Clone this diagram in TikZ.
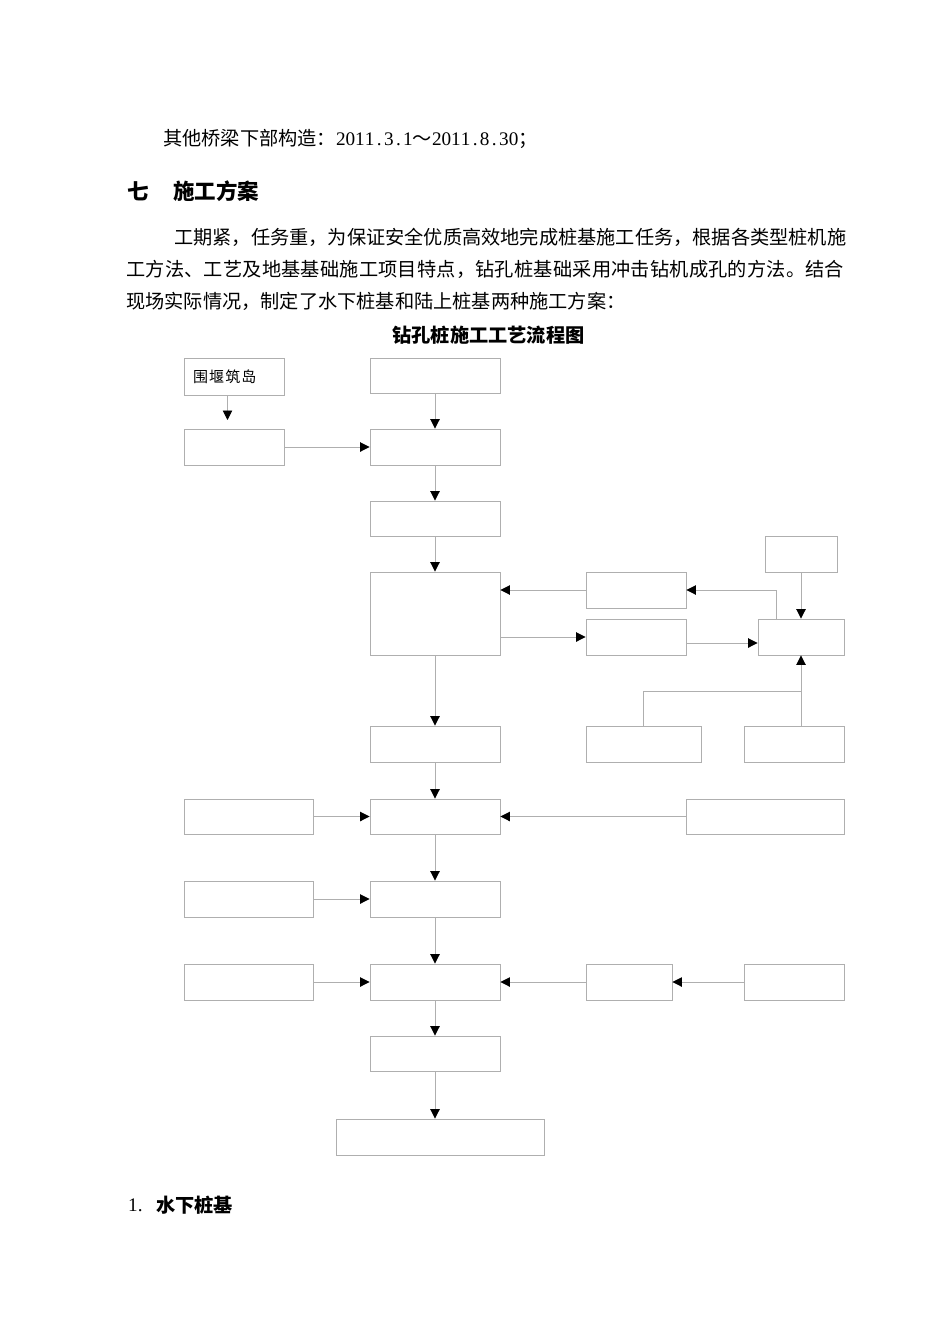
\documentclass[tikz,border=0pt]{standalone}
\usepackage{fontspec}
\setmainfont{Noto Sans CJK SC}
\newfontfamily\serifl{Liberation Serif}
\usetikzlibrary{arrows.meta}
\definecolor{ln}{RGB}{175,175,175}
\newcommand\hw[1]{{\serifl\makebox[9.6pt][c]{#1}}}
\ExplSyntaxOn
\NewDocumentCommand\spreadline{mm}
  {
    \hbox_to_wd:nn {#1}
      {
        \bool_set_true:N \l_tmpa_bool
        \tl_map_inline:nn {#2}
          {
            \bool_if:NTF \l_tmpa_bool
              { \bool_set_false:N \l_tmpa_bool }
              { \hfil }
            ##1
          }
      }
  }
\ExplSyntaxOff
\begin{document}
\begin{tikzpicture}[x=1pt,y=-1pt,
  box/.style={draw=ln,line width=0.9pt,inner sep=0pt,fill=white},
  con/.style={draw=ln,line width=0.9pt},
  arr/.style={con,-{Triangle[color=black,length=9.5pt,width=9.5pt]}},
  txt/.style={inner sep=0pt,anchor=west,font=\fontsize{19.2}{22}\selectfont},
  hd/.style={inner sep=0pt,anchor=west,font=\fontsize{19.2}{22}\selectfont\bfseries}]
\path[use as bounding box,fill=white] (0,0) rectangle (950,1344);

% ---------- text ----------
\node[txt] (l0) at (163,138.5) {其他桥梁下部构造：\hw2\hw0\hw1\hw1\hw.\hw3\hw.\hw1～\hw2\hw0\hw1\hw1\hw.\hw8\hw.\hw3\hw0；};
\node[hd,font=\fontsize{21.5}{24}\selectfont\bfseries] (h7) at (127,191) {七};
\node[hd,font=\fontsize{21.5}{24}\selectfont\bfseries] (h7b) at (173,191) {施工方案};
\node[txt] (p1) at (174,237.5) {\spreadline{670pt}{工期紧，任务重，为保证安全优质高效地完成桩基施工任务，根据各类型桩机施}};
\node[txt] (p2) at (126,269.5) {\spreadline{718pt}{工方法、工艺及地基基础施工项目特点，钻孔桩基础采用冲击钻机成孔的方法。结合}};
\node[txt] (p3) at (126,301.5) {现场实际情况，制定了水下桩基和陆上桩基两种施工方案：};
\node[hd,anchor=center] (ct) at (488.5,335) {钻孔桩施工工艺流程图};
\node[txt,font=\serifl\fontsize{19.2}{22}\selectfont] (n1) at (128,1205) {1.};
\node[hd] (n1b) at (156,1205) {水下桩基};

% ---------- boxes ----------
\node[box,minimum width=100pt,minimum height=37pt] (b1) at (234,376.5) {};
\node[txt,font=\fontsize{15}{17}\selectfont] (tw) at (193,376.7) {\addfontfeature{LetterSpace=7}围堰筑岛};
\node[box,minimum width=130pt,minimum height=35pt] (b2) at (435,375.5) {};
\node[box,minimum width=100pt,minimum height=36pt] (b3) at (234,447) {};
\node[box,minimum width=130pt,minimum height=36pt] (b4) at (435,447) {};
\node[box,minimum width=130pt,minimum height=35pt] (b5) at (435,518.5) {};
\node[box,minimum width=130pt,minimum height=83pt] (b6) at (435,613.5) {};
\node[box,minimum width=100pt,minimum height=36pt] (bA) at (636,590) {};
\node[box,minimum width=100pt,minimum height=36pt] (bB) at (636,637) {};
\node[box,minimum width=72pt,minimum height=36pt] (bT) at (801,554) {};
\node[box,minimum width=86pt,minimum height=36pt] (bC) at (801,637) {};
\node[box,minimum width=115pt,minimum height=36pt] (bE) at (643.5,744) {};
\node[box,minimum width=100pt,minimum height=36pt] (bD) at (794,744) {};
\node[box,minimum width=130pt,minimum height=36pt] (bF) at (435,744) {};
\node[box,minimum width=129pt,minimum height=35pt] (L1) at (248.5,816.5) {};
\node[box,minimum width=130pt,minimum height=35pt] (C1) at (435,816.5) {};
\node[box,minimum width=158pt,minimum height=35pt] (R1) at (765,816.5) {};
\node[box,minimum width=129pt,minimum height=36pt] (L2) at (248.5,899) {};
\node[box,minimum width=130pt,minimum height=36pt] (C2) at (435,899) {};
\node[box,minimum width=129pt,minimum height=36pt] (L3) at (248.5,982) {};
\node[box,minimum width=130pt,minimum height=36pt] (C3) at (435,982) {};
\node[box,minimum width=86pt,minimum height=36pt] (M3) at (629,982) {};
\node[box,minimum width=100pt,minimum height=36pt] (R3) at (794,982) {};
\node[box,minimum width=130pt,minimum height=35pt] (G) at (435,1053.5) {};
\node[box,minimum width=208pt,minimum height=36pt] (H) at (440,1137) {};

% ---------- connectors ----------
\coordinate (t1) at (227.5,420);
\draw[arr] (b1.south -| t1) -- (t1);
\draw[arr] (b3.east) -- (b4.west);
\draw[arr] (b2.south) -- (b4.north);
\draw[arr] (b4.south) -- (b5.north);
\draw[arr] (b5.south) -- (b6.north);
\draw[arr] (bA.west) -- (bA.west -| b6.east);
\draw[arr] ([xshift=-25pt]bC.north) |- (bA.east);
\draw[arr] (b6.east |- bB.west) -- (bB.west);
\draw[arr] ([yshift=-6pt]bB.east) -- ([yshift=-6pt]bB.east -| bC.west);
\draw[arr] (bT.south) -- (bC.north);
\draw[arr] (bD.north -| bC.south) -- (bC.south);
\coordinate (j) at (801,691);
\draw[con] (bE.north) |- (j);
\draw[arr] (b6.south) -- (bF.north);
\draw[arr] (bF.south) -- (C1.north);
\draw[arr] (L1.east) -- (C1.west);
\draw[arr] (R1.west) -- (C1.east);
\draw[arr] (C1.south) -- (C2.north);
\draw[arr] (L2.east) -- (C2.west);
\draw[arr] (C2.south) -- (C3.north);
\draw[arr] (L3.east) -- (C3.west);
\draw[arr] (M3.west) -- (C3.east);
\draw[arr] (R3.west) -- (M3.east);
\draw[arr] (C3.south) -- (G.north);
\draw[arr] (G.south) -- (G.south |- H.north);
\end{tikzpicture}
\end{document}
